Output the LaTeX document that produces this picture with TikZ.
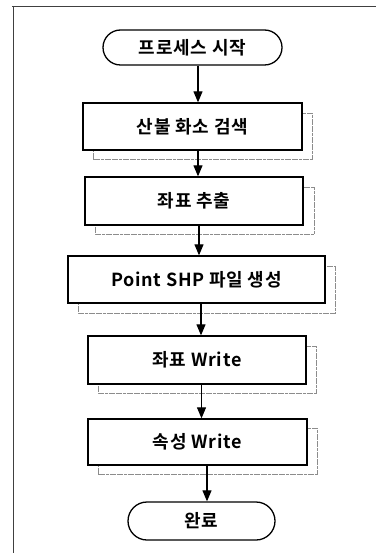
\documentclass[tikz,border=0pt]{standalone}
\usepackage{fontspec}
\newfontfamily\kr{Noto Sans CJK KR}[BoldFont={* Bold},LetterSpace=4]
\usetikzlibrary{shapes.misc,arrows.meta}
\begin{document}
\begin{tikzpicture}[x=1pt,y=-1pt,
  every node/.style={font=\kr\bfseries\fontsize{18}{21}\selectfont, inner sep=0pt},
  procbox/.style={draw, line width=1.3pt, fill=white, minimum height=#1},
  procbox/.default=47pt,
  term/.style={draw, line width=1.3pt, rounded rectangle, fill=white},
  shade/.style={draw=black!45, line width=0.8pt, dash pattern=on 3pt off 0.6pt},
  arr/.style={line width=1.1pt, -{Triangle[width=9pt,length=11pt]}},
  frameline/.style={draw=black!75, line width=1pt}]
\useasboundingbox (0,0) rectangle (376,553);
\draw[frameline] (12,7) coordinate (ftl) -- (376,7) coordinate (ftr);
\draw[frameline] (13.5,7) -- (13.5,553) coordinate (fbl);

% shadows
\draw[shade] (93,113) rectangle (312,159);
\draw[shade] (95,187) rectangle (314,234);
\draw[shade] (78,266) rectangle (335,313);
\draw[shade] (98,346) rectangle (316,393);
\draw[shade] (98,428) rectangle (317,474);

\node[term, minimum width=179pt, minimum height=35pt] (s) at (192.5,47.5) {프로세스 시작};
\node[procbox=47pt, minimum width=219pt] (b1) at (192.5,126.5) {산불 화소 검색};
\node[procbox=48pt, minimum width=218pt] (b2) at (194,201) {좌표 추출};
\node[procbox=47pt, minimum width=257pt] (b3) at (196.5,279.5) {Point SHP 파일 생성};
\node[procbox=48pt, minimum width=218pt] (b4) at (197,360) {좌표 Write};
\node[procbox=46pt, minimum width=219pt] (b5) at (197.5,442) {속성 Write};
\node[term, minimum width=147pt, minimum height=38pt] (e) at (201.5,521) {완료};

\draw[arr] ([xshift=5.5pt]s.south) -- ([xshift=5.5pt]s.south |- b1.north);
\draw[arr] ([xshift=5.5pt]b1.south) -- ([xshift=5.5pt]b1.south |- b2.north);
\draw[arr] ([xshift=5pt]b2.south) -- ([xshift=5pt]b2.south |- b3.north);
\draw[arr] ([xshift=4.5pt]b3.south) -- ([xshift=4.5pt]b3.south |- b4.north);
\draw[arr] ([xshift=4.5pt]b4.south) -- ([xshift=4.5pt]b4.south |- b5.north);
\draw[arr] ([xshift=9.5pt]b5.south) -- ([xshift=9.5pt]b5.south |- e.north);
\end{tikzpicture}
\end{document}
